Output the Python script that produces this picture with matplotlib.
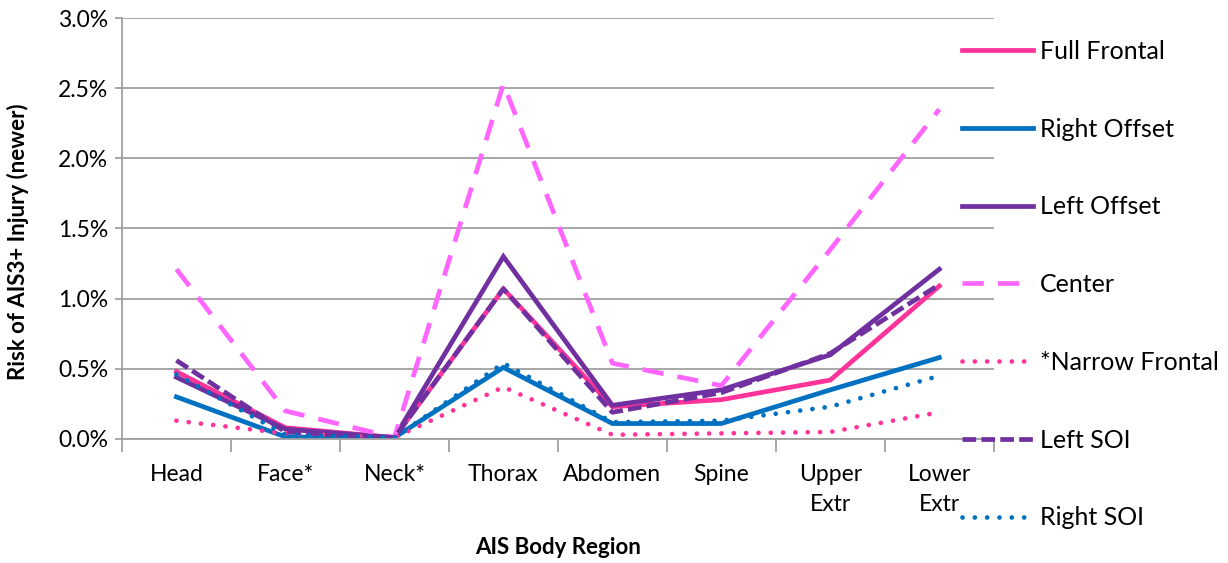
import numpy as np
import matplotlib.pyplot as plt
from matplotlib.ticker import PercentFormatter, FixedLocator

# data (percent)
regions = ['Head', 'Face*', 'Neck*', 'Thorax', 'Abdomen', 'Spine', 'Upper\nExtr', 'Lower\nExtr']
full_frontal = [0.48, 0.08, 0.01, 1.07, 0.23, 0.28, 0.42, 1.09]
right_offset = [0.30, 0.015, 0.01, 0.51, 0.11, 0.11, 0.35, 0.58]
left_offset = [0.44, 0.07, 0.01, 1.30, 0.24, 0.35, 0.60, 1.21]
center = [1.21, 0.20, 0.01, 2.53, 0.54, 0.38, 1.35, 2.35]
narrow_frontal = [0.13, 0.04, 0.01, 0.37, 0.03, 0.04, 0.05, 0.19]
left_soi = [0.56, 0.05, 0.01, 1.07, 0.19, 0.33, 0.61, 1.10]
right_soi = [0.46, 0.03, 0.01, 0.54, 0.12, 0.13, 0.23, 0.45]

PINK = '#FF3399'
BLUE = '#0070C0'
PURPLE = '#7030A0'
LPINK = '#FF66FF'
GRID = '#A0A0A0'

plt.rcParams['font.family'] = ['Lato', 'DejaVu Sans']

fig = plt.figure(figsize=(12.28, 5.63), dpi=100)
ax = fig.add_axes([0.0993, 0.2203, 0.7100, 0.7477])

x = np.arange(len(regions))
lw = 3.4

series = [
    ('Full Frontal', full_frontal, PINK, None),
    ('Right Offset', right_offset, BLUE, None),
    ('Left Offset', left_offset, PURPLE, None),
    ('Center', center, LPINK, (4.5, 3.0)),
    ('*Narrow Frontal', narrow_frontal, PINK, (0.01, 2.6)),
    ('Left SOI', left_soi, PURPLE, (2.9, 1.1)),
    ('Right SOI', right_soi, BLUE, (0.01, 2.6)),
]

for name, vals, col, dash in series:
    line, = ax.plot(x, vals, color=col, lw=lw, label=name, solid_joinstyle='miter')
    if dash is not None:
        line.set_dashes(dash)
        if dash[0] < 0.1:
            line.set_dash_capstyle('round')

ax.set_xlim(-0.5, len(regions) - 0.5)
ax.set_ylim(0, 3.0)
ax.yaxis.set_major_locator(FixedLocator(np.arange(0, 3.01, 0.5)))
ax.yaxis.set_major_formatter(PercentFormatter(decimals=1))
ax.grid(axis='y', color=GRID, lw=1.3)
ax.set_axisbelow(True)

ax.set_xticks(x)
ax.set_xticklabels(regions, fontsize=16.5, linespacing=1.55)
ax.set_xticks(np.arange(-0.5, len(regions)), minor=True)
ax.tick_params(axis='x', which='major', length=0, pad=18)
ax.tick_params(axis='x', which='minor', length=9, color=GRID, width=1.3)
ax.tick_params(axis='y', length=5, color=GRID, width=1.3, labelsize=16.5, pad=5)

for s in ['top', 'right']:
    ax.spines[s].set_visible(False)
for s in ['left', 'bottom']:
    ax.spines[s].set_color(GRID)
    ax.spines[s].set_linewidth(1.3)

ax.set_ylabel('Risk of AIS3+ Injury (newer)', fontsize=16, fontweight='bold', va='center')
ax.yaxis.set_label_coords(-0.1193, 0.469)
ax.set_xlabel('AIS Body Region', fontsize=16, fontweight='bold', va='center')
ax.xaxis.set_label_coords(0.5, -0.259)

ax.legend(loc='upper left', bbox_to_anchor=(0.963, 0.948), frameon=False, fontsize=18,
          handlelength=2.85, handletextpad=0.28, labelspacing=2.19,
          borderaxespad=0, borderpad=0)

fig.savefig('out.png', dpi=100)
